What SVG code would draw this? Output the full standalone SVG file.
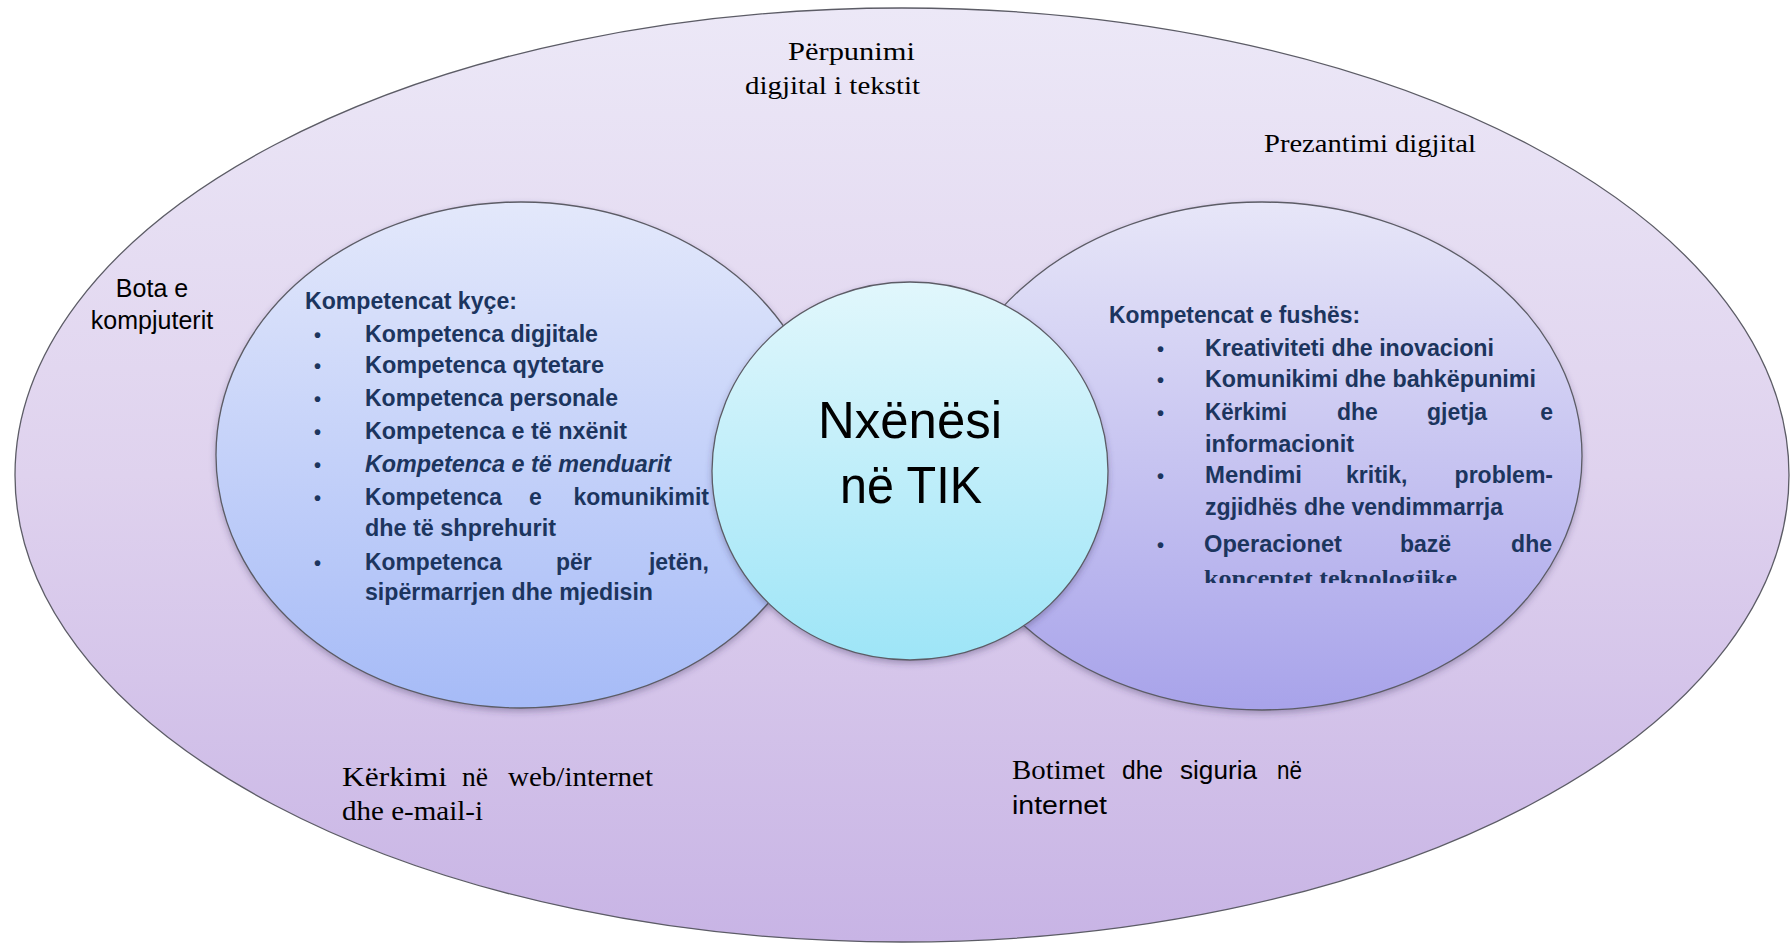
<svg xmlns="http://www.w3.org/2000/svg" width="1792" height="943" viewBox="0 0 1792 943">
<defs>
<linearGradient id="gOuter" x1="0" y1="0" x2="0" y2="1">
<stop offset="0" stop-color="#ECE8F7"/>
<stop offset="0.5" stop-color="#DFD2EE"/>
<stop offset="1" stop-color="#C8B4E5"/>
</linearGradient>
<linearGradient id="gLeft" x1="0" y1="0" x2="0" y2="1">
<stop offset="0" stop-color="#E3E8FB"/>
<stop offset="1" stop-color="#A6BBF7"/>
</linearGradient>
<linearGradient id="gRight" x1="0" y1="0" x2="0" y2="1">
<stop offset="0" stop-color="#E7E6F8"/>
<stop offset="1" stop-color="#A8A3EA"/>
</linearGradient>
<linearGradient id="gCircle" x1="0" y1="0" x2="0" y2="1">
<stop offset="0" stop-color="#E1F7FC"/>
<stop offset="1" stop-color="#9EE5F7"/>
</linearGradient>
<filter id="shadow" x="-10%" y="-10%" width="120%" height="125%">
<feDropShadow dx="0" dy="3" stdDeviation="3" flood-color="#3a3560" flood-opacity="0.35"/>
</filter>
<clipPath id="clipLast">
<rect x="1190" y="560" width="300" height="23"/>
</clipPath>
</defs>
<style>
.shape{stroke:#5c5c66;stroke-width:1.3}
.lbl{font-family:"Liberation Serif","Times New Roman",serif;font-size:25px;fill:#000}
.lbl2{font-family:"Liberation Serif","Times New Roman",serif;font-size:27px;fill:#000}
.sans{font-family:"Liberation Sans",Arial,sans-serif;font-size:25px;fill:#000}
.list{font-family:"Liberation Sans",Arial,sans-serif;font-size:23px;font-weight:bold;fill:#1C355E}
.bul{font-family:"Liberation Sans",Arial,sans-serif;font-size:20px;font-weight:bold;fill:#1C355E}
.ctr{font-family:"Liberation Sans",Arial,sans-serif;font-size:52px;fill:#000}
</style>

<g id="outer">
<ellipse class="shape" cx="902" cy="475" rx="887" ry="467" fill="url(#gOuter)"/>
<text class="lbl" x="788" y="60" textLength="127" lengthAdjust="spacingAndGlyphs">Përpunimi</text>
<text class="lbl" x="745" y="94" textLength="175" lengthAdjust="spacingAndGlyphs">digjital i tekstit</text>
<text class="lbl" x="1264" y="152" textLength="212" lengthAdjust="spacingAndGlyphs">Prezantimi digjital</text>
<text class="sans" x="152" y="297" text-anchor="middle">Bota e</text>
<text class="sans" x="152" y="329" text-anchor="middle">kompjuterit</text>
<text class="lbl2" x="342" y="786" textLength="105" lengthAdjust="spacingAndGlyphs">Kërkimi</text>
<text class="lbl2" x="462" y="786" textLength="26" lengthAdjust="spacingAndGlyphs">në</text>
<text class="lbl2" x="508" y="786" textLength="145" lengthAdjust="spacingAndGlyphs">web/internet</text>
<text class="lbl2" x="342" y="820" textLength="141" lengthAdjust="spacingAndGlyphs">dhe e-mail-i</text>
<text class="lbl2" x="1012" y="779" textLength="93" lengthAdjust="spacingAndGlyphs">Botimet</text>
<text class="sans" x="1122" y="779" font-size="26" textLength="41" lengthAdjust="spacingAndGlyphs">dhe</text>
<text class="sans" x="1180" y="779" font-size="26" textLength="77" lengthAdjust="spacingAndGlyphs">siguria</text>
<text class="sans" x="1277" y="779" font-size="26" textLength="25" lengthAdjust="spacingAndGlyphs">në</text>
<text class="sans" x="1012" y="814" font-size="26" textLength="95" lengthAdjust="spacingAndGlyphs">internet</text>
</g>

<g id="left-ellipse">
<ellipse class="shape" cx="521" cy="455" rx="305" ry="253" fill="url(#gLeft)" filter="url(#shadow)"/>
<text class="list" x="305" y="309" textLength="212" lengthAdjust="spacingAndGlyphs">Kompetencat kyçe:</text>
<text class="bul" x="314" y="342">•</text>
<text class="list" x="365" y="342" textLength="233" lengthAdjust="spacingAndGlyphs">Kompetenca digjitale</text>
<text class="bul" x="314" y="373">•</text>
<text class="list" x="365" y="373" textLength="239" lengthAdjust="spacingAndGlyphs">Kompetenca qytetare</text>
<text class="bul" x="314" y="406">•</text>
<text class="list" x="365" y="406" textLength="253" lengthAdjust="spacingAndGlyphs">Kompetenca personale</text>
<text class="bul" x="314" y="439">•</text>
<text class="list" x="365" y="439" textLength="262" lengthAdjust="spacingAndGlyphs">Kompetenca e të nxënit</text>
<text class="bul" x="314" y="472">•</text>
<text class="list" x="365" y="472" font-style="italic" textLength="306" lengthAdjust="spacingAndGlyphs">Kompetenca e të menduarit</text>
<text class="bul" x="314" y="505">•</text>
<text class="list" x="365" y="505" textLength="137" lengthAdjust="spacingAndGlyphs">Kompetenca</text>
<text class="list" x="529" y="505">e</text>
<text class="list" x="709" y="505" text-anchor="end">komunikimit</text>
<text class="list" x="365" y="536" textLength="191" lengthAdjust="spacingAndGlyphs">dhe të shprehurit</text>
<text class="bul" x="314" y="570">•</text>
<text class="list" x="365" y="570" textLength="137" lengthAdjust="spacingAndGlyphs">Kompetenca</text>
<text class="list" x="556" y="570">për</text>
<text class="list" x="709" y="570" text-anchor="end">jetën,</text>
<text class="list" x="365" y="600" textLength="288" lengthAdjust="spacingAndGlyphs">sipërmarrjen dhe mjedisin</text>
</g>

<g id="right-ellipse">
<ellipse class="shape" cx="1262" cy="456" rx="320" ry="254" fill="url(#gRight)" filter="url(#shadow)"/>
<text class="list" x="1109" y="323" textLength="251" lengthAdjust="spacingAndGlyphs">Kompetencat e fushës:</text>
<text class="bul" x="1157" y="356">•</text>
<text class="list" x="1205" y="356" textLength="289" lengthAdjust="spacingAndGlyphs">Kreativiteti dhe inovacioni</text>
<text class="bul" x="1157" y="387">•</text>
<text class="list" x="1205" y="387" textLength="331" lengthAdjust="spacingAndGlyphs">Komunikimi dhe bahkëpunimi</text>
<text class="bul" x="1157" y="420">•</text>
<text class="list" x="1205" y="420" textLength="82" lengthAdjust="spacingAndGlyphs">Kërkimi</text>
<text class="list" x="1337" y="420">dhe</text>
<text class="list" x="1427" y="420">gjetja</text>
<text class="list" x="1553" y="420" text-anchor="end">e</text>
<text class="list" x="1205" y="452" textLength="149" lengthAdjust="spacingAndGlyphs">informacionit</text>
<text class="bul" x="1157" y="483">•</text>
<text class="list" x="1205" y="483" textLength="97" lengthAdjust="spacingAndGlyphs">Mendimi</text>
<text class="list" x="1346" y="483">kritik,</text>
<text class="list" x="1553" y="483" text-anchor="end">problem-</text>
<text class="list" x="1205" y="515" textLength="298" lengthAdjust="spacingAndGlyphs">zgjidhës dhe vendimmarrja</text>
<text class="bul" x="1157" y="552">•</text>
<text class="list" x="1204" y="552" textLength="138" lengthAdjust="spacingAndGlyphs">Operacionet</text>
<text class="list" x="1400" y="552">bazë</text>
<text class="list" x="1552" y="552" text-anchor="end">dhe</text>
<g clip-path="url(#clipLast)">
<text x="1204" y="586" font-family="'Liberation Serif','Times New Roman',serif" font-size="24" font-weight="bold" fill="#1C355E" textLength="253" lengthAdjust="spacingAndGlyphs">konceptet teknologjike</text>
</g>
</g>

<g id="center-circle">
<ellipse class="shape" cx="910" cy="471" rx="198" ry="189" fill="url(#gCircle)" filter="url(#shadow)"/>
<text class="ctr" x="910" y="438" text-anchor="middle" textLength="184" lengthAdjust="spacingAndGlyphs">Nxënësi</text>
<text class="ctr" x="911" y="503" text-anchor="middle" textLength="142" lengthAdjust="spacingAndGlyphs">në TIK</text>
</g>

<g id="connectors"/>
</svg>
